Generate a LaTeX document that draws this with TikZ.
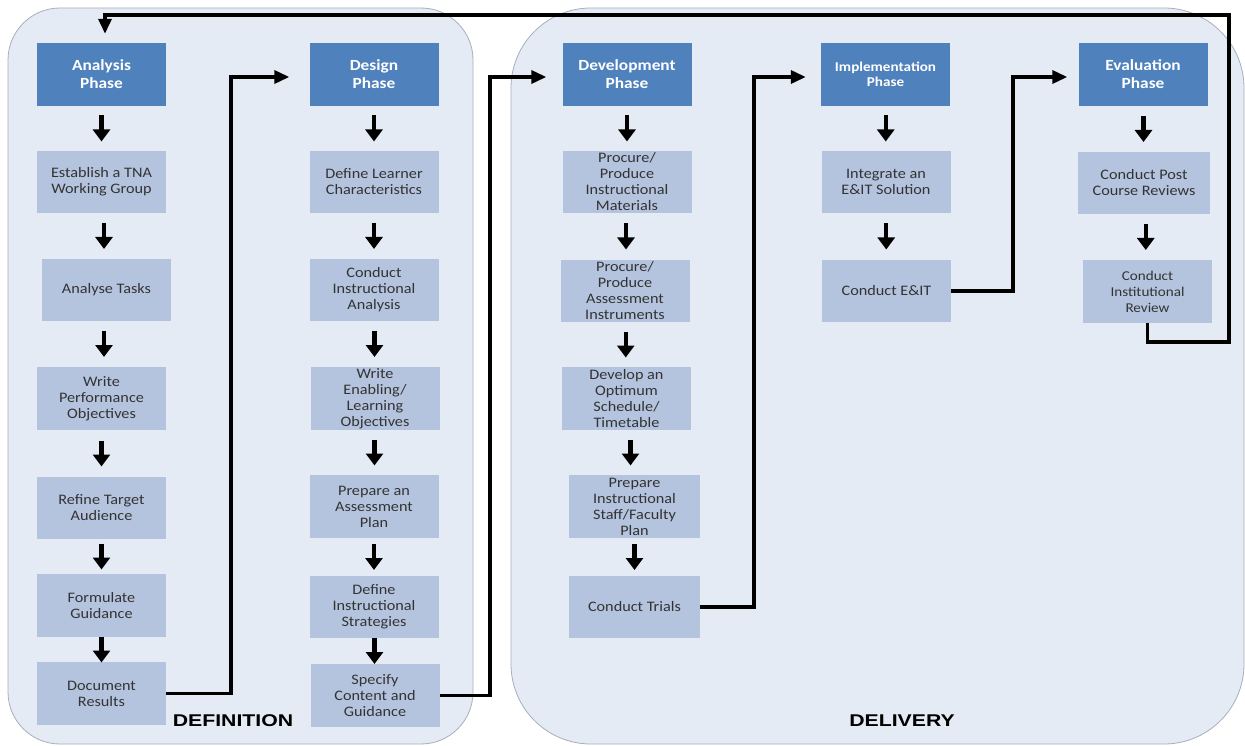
\documentclass[tikz,border=0pt]{standalone}
\usepackage{fontspec}
\usetikzlibrary{arrows.meta,calc}
\newfontfamily\boxfont[FakeStretch=1.12]{Carlito}
\newfontfamily\labfont[FakeStretch=1.25]{Liberation Sans}
\definecolor{hdr}{HTML}{4F81BD}
\definecolor{lbx}{HTML}{B5C4DE}
\definecolor{cont}{HTML}{E5EBF4}
\definecolor{contline}{HTML}{A7AFBC}
\definecolor{txt}{HTML}{333333}
\newcommand\dnarrow[2]{\draw[dn] ($(#1.south)!.5!(#2.north)+(0,-13)$) -- ++(0,26);}
\begin{document}
\begin{tikzpicture}[x=1pt,y=-1pt,
 hbox/.style={fill=hdr, text=white, minimum width=129pt, minimum height=63pt, inner sep=0pt, align=center, font=\boxfont\bfseries\fontsize{15.5}{18}\selectfont},
 lbox/.style={fill=lbx, text=txt, minimum width=129pt, minimum height=62pt, inner sep=0pt, align=center, font=\boxfont\fontsize{14.5}{16}\selectfont},
 conn/.style={line width=3.4pt, -{Triangle[length=15pt,width=13pt]}},
 dn/.style={line width=4.2pt, -{Triangle[length=12pt,width=17pt]}},
 panel/.style={fill=cont, draw=contline, line width=0.8pt},
 panellabel/.style={text=black, font=\labfont\bfseries\fontsize{17}{20}\selectfont}]
\useasboundingbox (0,0) rectangle (1245,746);
\fill[white] (0,0) rectangle (1245,746);
% panels
\draw[panel, rounded corners=52pt] (8,8) rectangle (473,744);
\draw[panel, rounded corners=80pt] (511,8) rectangle (1244,744);
\node[panellabel] (deflab) at (233,721) {DEFINITION};
\node[panellabel] (dellab) at (902,721) {DELIVERY};
% Analysis column
\node[hbox] (A0) at (101.5,74.5) {Analysis\\Phase};
\node[lbox] (A1) at (101.5,182) {Establish a TNA\\Working Group};
\node[lbox] (A2) at (106.5,290) {Analyse Tasks};
\node[lbox, minimum height=63pt] (A3) at (101.5,398.5) {Write\\Performance\\Objectives};
\node[lbox] (A4) at (101.5,508) {Refine Target\\Audience};
\node[lbox, minimum height=63pt] (A5) at (101.5,605.5) {Formulate\\Guidance};
\node[lbox, minimum height=63pt] (A6) at (101.5,693.5) {Document\\Results};
% Design column
\node[hbox] (D0) at (374,74.5) {Design\\Phase};
\node[lbox] (D1) at (374,182) {Define Learner\\Characteristics};
\node[lbox] (D2) at (374,290) {Conduct\\Instructional\\Analysis};
\node[lbox, minimum height=63pt] (D3) at (375,398.5) {Write\\Enabling/\\Learning\\Objectives};
\node[lbox, minimum height=63pt] (D4) at (374,506.5) {Prepare an\\Assessment\\Plan};
\node[lbox] (D5) at (374,607) {Define\\Instructional\\Strategies};
\node[lbox, minimum height=63pt] (D6) at (375,695.5) {Specify\\Content and\\Guidance};
% Development column
\node[hbox] (V0) at (627,74.5) {Development\\Phase};
\node[lbox] (V1) at (627,182) {Procure/\\Produce\\Instructional\\Materials};
\node[lbox] (V2) at (625,291) {Procure/\\Produce\\Assessment\\Instruments};
\node[lbox, minimum height=63pt] (V3) at (626.5,398.5) {Develop an\\Optimum\\Schedule/\\Timetable};
\node[lbox, minimum width=131pt, minimum height=63pt] (V4) at (634.5,506.5) {Prepare\\Instructional\\Staff/Faculty\\Plan};
\node[lbox, minimum width=131pt] (V5) at (634.5,607) {Conduct Trials};
% Implementation column
\node[hbox, font=\boxfont\bfseries\fontsize{13.5}{15}\selectfont] (I0) at (885.5,74.5) {Implementation\\Phase};
\node[lbox] (I1) at (886,182) {Integrate an\\E\&IT Solution};
\node[lbox] (I2) at (886.5,291) {Conduct E\&IT};
% Evaluation column
\node[hbox] (E0) at (1143,74.5) {Evaluation\\Phase};
\node[lbox, minimum width=132pt] (E1) at (1144,183) {Conduct Post\\Course Reviews};
\node[lbox, minimum height=63pt, font=\boxfont\fontsize{13.5}{16}\selectfont] (E2) at (1147.5,291.5) {Conduct\\Institutional\\Review};
% down arrows
\dnarrow{A0}{A1}\dnarrow{A1}{A2}\dnarrow{A2}{A3}\dnarrow{A3}{A4}\dnarrow{A4}{A5}\dnarrow{A5}{A6}
\dnarrow{D0}{D1}\dnarrow{D1}{D2}\dnarrow{D2}{D3}\dnarrow{D3}{D4}\dnarrow{D4}{D5}\dnarrow{D5}{D6}
\dnarrow{V0}{V1}\dnarrow{V1}{V2}\dnarrow{V2}{V3}\dnarrow{V3}{V4}\dnarrow{V4}{V5}
\dnarrow{I0}{I1}\dnarrow{I1}{I2}
\dnarrow{E0}{E1}\dnarrow{E1}{E2}
% phase connectors
\coordinate (k1) at (231,77);
\coordinate (k2) at (490,77);
\coordinate (k3) at (754,77);
\coordinate (k4) at (1013,77);
\draw[conn, shorten >=20pt] (A6.east) -| (k1) -- (k1 -| D0.west);
\draw[conn, shorten >=16pt] (D6.east) -| (k2) -- (k2 -| V0.west);
\draw[conn, shorten >=15pt] (V5.east) -| (k3) -- (k3 -| I0.west);
\draw[conn, shorten >=11pt] (I2.east) -| (k4) -- (k4 -| E0.west);
% feedback loop
\coordinate (fb1) at (1229,342);
\coordinate (fb2) at (1229,15);
\coordinate (fb3) at (105,15);
\draw[conn, shorten >=9pt] (E2.south) |- (fb1) -- (fb2) -- (fb3) -- (fb3 |- A0.north);
\end{tikzpicture}
\end{document}
